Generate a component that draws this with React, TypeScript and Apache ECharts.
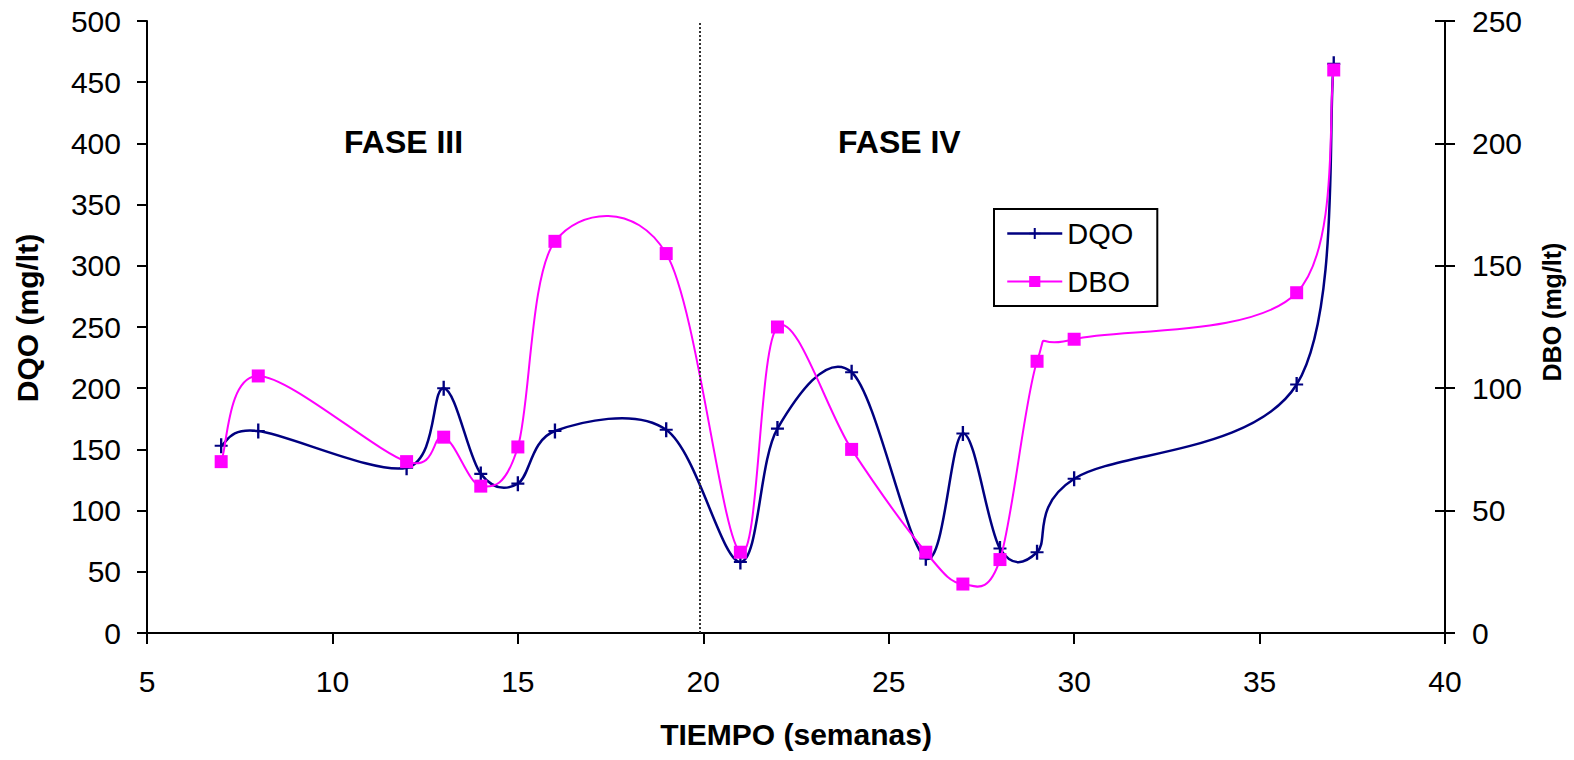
import React, { useEffect, useRef } from "react";
import * as echarts from "echarts";

// Weeks (x) and measured values
const weeks = [7, 8, 12, 13, 14, 15, 16, 19, 21, 22, 24, 26, 27, 28, 29, 30, 36, 37];
const dqo = [153, 165, 135, 200, 130, 122, 165, 166, 58, 167, 213, 61, 163, 69, 66, 126, 203, 465];
const dbo = [70, 105, 70, 80, 60, 76, 160, 155, 33, 125, 75, 33, 20, 30, 111, 120, 139, 230];

const xTicks = { min: 5, max: 40, interval: 5 };
const leftTicks = { min: 0, max: 500, interval: 50 };
const rightTicks = { min: 0, max: 250, interval: 50 };
const phaseBoundary = 19.9;
const phaseLabels = ["FASE III", "FASE IV"];

const FONT = "'Liberation Sans', Arial, sans-serif";
const PLUS = "path://M0,4.3 L10,4.3 L10,5.7 L0,5.7 Z M4.1,0 L5.9,0 L5.9,10 L4.1,10 Z";
const NAVY = "#000080";
const MAGENTA = "#FF00FF";

// Excel-like smoothed curve (Catmull-Rom as cubic Bezier) drawn through the axis scales
function curveSeries(id: string, values: number[], yAxisIndex: number, color: string, width: number, z: number) {
  return {
    id,
    type: "custom",
    yAxisIndex,
    silent: true,
    z,
    data: weeks.map((w, i) => [w, values[i]]),
    encode: { x: 0, y: 1 },
    renderItem: (params: any, api: any) => {
      if (params.dataIndex !== 0) return null;
      const pts = weeks.map((w, i) => api.coord([w, values[i]]));
      let d = `M${pts[0][0]},${pts[0][1]}`;
      for (let i = 0; i < pts.length - 1; i++) {
        const p0 = pts[Math.max(i - 1, 0)];
        const p1 = pts[i];
        const p2 = pts[i + 1];
        const p3 = pts[Math.min(i + 2, pts.length - 1)];
        const c1x = p1[0] + (p2[0] - p0[0]) / 6;
        const c1y = p1[1] + (p2[1] - p0[1]) / 6;
        const c2x = p2[0] - (p3[0] - p1[0]) / 6;
        const c2y = p2[1] - (p3[1] - p1[1]) / 6;
        d += ` C${c1x},${c1y} ${c2x},${c2y} ${p2[0]},${p2[1]}`;
      }
      return {
        type: "path",
        shape: { pathData: d },
        style: { fill: "none", stroke: color, lineWidth: width },
      };
    },
  };
}

export default function App() {
  const ref = useRef<HTMLDivElement>(null);
  useEffect(() => {
    if (!ref.current) return;
    const chart = echarts.init(ref.current, null, { renderer: "svg" });
    const axisLine = { show: true, lineStyle: { color: "#000", width: 2 } };
    chart.setOption({
      animation: false,
      backgroundColor: "#fff",
      textStyle: { fontFamily: FONT },
      grid: { left: 147, right: 129, top: 21, bottom: 127, containLabel: false },
      legend: {
        orient: "vertical",
        left: 994,
        top: 209,
        padding: [10, 24, 10, 12],
        borderColor: "#000",
        borderWidth: 2,
        itemGap: 19,
        itemWidth: 55,
        itemHeight: 14,
        textStyle: { fontSize: 29, color: "#000", fontFamily: FONT },
        data: [
          { name: "DQO", lineStyle: { color: NAVY, width: 2.5, opacity: 1 } },
          { name: "DBO", lineStyle: { color: MAGENTA, width: 2, opacity: 1 } },
        ],
      },
      xAxis: {
        type: "value",
        min: xTicks.min,
        max: xTicks.max,
        interval: xTicks.interval,
        name: "TIEMPO (semanas)",
        nameLocation: "middle",
        nameGap: 86,
        nameTextStyle: { fontSize: 30, fontWeight: "bold", color: "#000", fontFamily: FONT },
        axisLine,
        axisTick: { show: true, length: 11, lineStyle: { color: "#000", width: 2 } },
        axisLabel: { fontSize: 30, color: "#000", margin: 33, fontFamily: FONT },
        splitLine: { show: false },
      },
      yAxis: [
        {
          type: "value",
          position: "left",
          min: leftTicks.min,
          max: leftTicks.max,
          interval: leftTicks.interval,
          name: "DQO (mg/lt)",
          nameLocation: "middle",
          nameRotate: 90,
          nameGap: 105,
          nameTextStyle: { fontSize: 30, fontWeight: "bold", color: "#000", fontFamily: FONT, padding: [0, 0, 0, 18] },
          axisLine,
          axisTick: { show: true, length: 10, lineStyle: { color: "#000", width: 2 } },
          axisLabel: { fontSize: 30, color: "#000", margin: 26, fontFamily: FONT },
          splitLine: { show: false },
        },
        {
          type: "value",
          position: "right",
          min: rightTicks.min,
          max: rightTicks.max,
          interval: rightTicks.interval,
          name: "DBO (mg/lt)",
          nameLocation: "middle",
          nameRotate: 90,
          nameGap: 94,
          nameTextStyle: { fontSize: 25, fontWeight: "bold", color: "#000", fontFamily: FONT, padding: [0, 0, 0, 30] },
          axisLine,
          axisTick: { show: true, length: 10, lineStyle: { color: "#000", width: 2 } },
          axisLabel: { fontSize: 30, color: "#000", margin: 27, fontFamily: FONT },
          splitLine: { show: false },
        },
        {
          type: "value",
          position: "right",
          min: rightTicks.min,
          max: rightTicks.max,
          interval: rightTicks.interval,
          axisLine: { show: false },
          axisTick: { show: true, inside: true, length: 10, lineStyle: { color: "#000", width: 2 } },
          axisLabel: { show: false },
          splitLine: { show: false },
        },
      ],
      graphic: [
        {
          type: "text",
          left: 344,
          top: 126,
          style: { text: phaseLabels[0], font: `bold 32px ${FONT}`, fill: "#000" },
        },
        {
          type: "text",
          left: 838,
          top: 126,
          style: { text: phaseLabels[1], font: `bold 32px ${FONT}`, fill: "#000" },
        },
      ],
      series: [
        curveSeries("dqoCurve", dqo, 0, NAVY, 2.5, 2),
        curveSeries("dboCurve", dbo, 1, MAGENTA, 2, 4),
        {
          name: "DQO",
          type: "line",
          yAxisIndex: 0,
          z: 3,
          data: weeks.map((w, i) => [w, dqo[i]]),
          symbol: PLUS,
          symbolSize: [13, 15],
          lineStyle: { color: NAVY, width: 2.5, opacity: 0 },
          itemStyle: { color: NAVY },
          markLine: {
            silent: true,
            symbol: ["none", "none"],
            label: { show: false },
            lineStyle: { color: "#333", type: "dotted", width: 2, opacity: 1 },
            data: [{ xAxis: phaseBoundary }],
          },
        },
        {
          name: "DBO",
          type: "line",
          yAxisIndex: 1,
          z: 5,
          data: weeks.map((w, i) => [w, dbo[i]]),
          symbol: "rect",
          symbolSize: 13,
          lineStyle: { color: MAGENTA, width: 2, opacity: 0 },
          itemStyle: { color: MAGENTA },
        },
      ],
    });
    return () => chart.dispose();
  }, []);
  return (
    <div
      ref={ref}
      style={{ position: "fixed", left: 0, top: 0, width: 1574, height: 760, background: "#fff" }}
    />
  );
}
